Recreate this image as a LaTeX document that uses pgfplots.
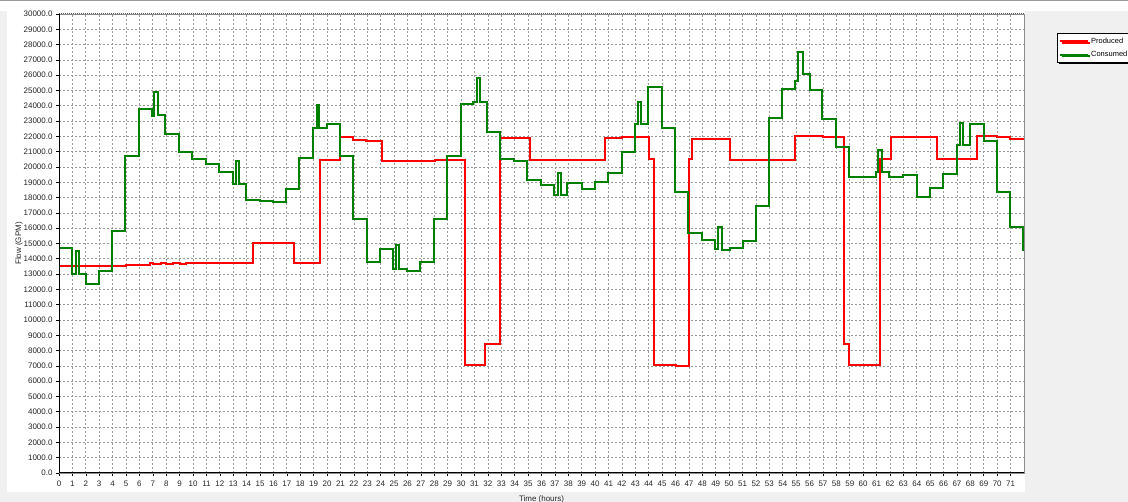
\documentclass[border=0pt]{standalone}
\usepackage{fontspec}
\setmainfont{Liberation Sans}
\usepackage{pgfplots}
\pgfplotsset{compat=1.18}
\usetikzlibrary{shadows}
\definecolor{bggray}{HTML}{F0F0F0}
\definecolor{gridgray}{HTML}{9A9A9A}
\definecolor{prodred}{HTML}{FF0000}
\definecolor{consgreen}{HTML}{008000}
\begin{document}
\begin{tikzpicture}
\path[use as bounding box] (0bp,0bp) rectangle (1128bp,502bp);
\clip (0bp,0bp) rectangle (1128bp,502bp);
\fill[bggray] (0bp,0bp) rectangle (1128bp,502bp);
\fill[white] (0bp,491bp) rectangle (1128bp,501bp);
\fill[white] (7bp,10bp) rectangle (1025bp,491bp);
\draw[black!40, line width=1bp] (0bp,501.5bp) -- (1128bp,501.5bp);
\begin{axis}[
  at={(59bp,29bp)}, anchor=south west,
  scale only axis, width=965bp, height=459bp,
  xmin=0, xmax=72, ymin=0, ymax=30000,
  xtick={0,...,71}, ytick={0,1000,...,30000},
  scaled y ticks=false,
  grid=major,
  major grid style={gridgray, dash pattern=on 2bp off 2bp, line width=0.7bp},
  axis line style={draw=black!45, line width=0.8bp},
  tick align=outside, xtick pos=left, ytick pos=left,
  major tick length=3bp, tick style={black, line width=0.6bp},
  /pgf/number format/assume math mode=true,
  ticklabel style={font=\fontsize{8}{9}\selectfont, text=black!85},
  y tick label style={/pgf/number format/.cd, fixed, fixed zerofill, precision=1, 1000 sep={}},
  x tick label style={yshift=-1.5bp, /pgf/number format/.cd, fixed, precision=0, 1000 sep={}},
  xlabel={Time (hours)}, ylabel={Flow (GPM)},
  label style={font=\fontsize{8}{9}\selectfont, text=black!85},
  xlabel style={yshift=-2bp},
  ylabel style={yshift=-6bp},
  legend style={at={(axis description cs:1.0342,0.9586)}, anchor=north west,
    draw=black, fill=white, font=\fontsize{7.5}{8}\selectfont,
    inner xsep=2bp, inner ysep=2.5bp, row sep=2.5bp, cells={anchor=west},
    drop shadow={shadow xshift=1.5bp, shadow yshift=-1.5bp, fill=black, opacity=1}},
  legend image code/.code={\draw[#1] (0bp,0bp) -- (28bp,0bp);},
]
\addplot[const plot, prodred, line width=2bp, line join=miter] coordinates {
(0,13550) (5.0,13620) (6.8,13700) (7.0,13650) (7.6,13720) (8.0,13650) (8.5,13700) (9.0,13650) (9.5,13720)
(14.5,15010) (17.55,13700) (19.46,20460) (20.95,21940) (21.92,21770) (22.91,21700) (24.08,20410)
(28.06,20460) (30.3,7040) (31.79,8410) (32.88,21920) (35.15,20460) (40.75,21870) (42.0,21980)
(44.0,20500) (44.38,7040) (46.0,7000) (47.0,20500) (47.25,21810) (50.1,20460) (54.93,22030)
(57.04,21980) (58.6,8410) (58.95,7060) (61.27,20500) (62.07,21940) (65.5,20500) (68.48,22030)
(69.97,21940) (70.97,21810) (72,21810)
};
\addlegendentry{Produced}
\addplot[const plot, consgreen, line width=2bp, line join=miter] coordinates {
(0,14700) (0.97,13000) (1.3,14500) (1.5,13000) (2.0,12330) (2.95,13180) (3.96,15800) (4.93,20750)
(6.0,23800) (6.92,23350) (7.1,24880) (7.35,23400) (7.9,22140) (8.98,20960) (9.95,20550) (10.95,20200)
(11.94,19650) (12.96,18890) (13.2,20410) (13.4,18890) (13.96,17840) (15.0,17760) (15.99,17700)
(16.94,18570) (17.93,20600) (18.93,22550) (19.23,24030) (19.43,22550) (20.02,22830) (20.97,20720)
(21.96,16620) (22.96,13770) (23.96,14620) (24.95,13330) (25.15,14900) (25.4,13330) (25.95,13220)
(26.94,13770) (27.99,16620) (28.93,20720) (29.98,24120) (30.92,24270) (31.17,25840) (31.42,24270)
(31.96,22290) (32.91,20540) (33.96,20390) (34.95,19150) (35.95,18820) (36.94,18170) (37.2,19630)
(37.46,18170) (37.89,18930) (39.0,18560) (40.0,19000) (40.99,19630) (41.99,21000) (42.99,22790)
(43.23,24270) (43.43,22790) (43.98,25210) (44.97,22570) (45.97,18390) (46.96,15660) (47.96,15230)
(48.96,14640) (49.2,16100) (49.45,14600) (50.07,14690) (51.0,15190) (51.99,17470) (53.0,23220)
(53.93,25080) (54.93,25640) (55.17,27540) (55.5,26080) (56.0,25030) (56.96,23120) (57.96,21330)
(58.93,19370) (60.97,19690) (61.14,21110) (61.44,19650) (61.96,19370) (63.0,19480) (64.0,18060)
(65.0,18610) (65.99,19540) (66.99,21440) (67.19,22900) (67.44,21440) (67.99,22810) (68.98,21720)
(69.97,18390) (70.97,16100) (71.92,14600) (72,14600)
};
\addlegendentry{Consumed}
\draw[black, line width=1.2bp] (rel axis cs:0,1) -- (rel axis cs:0,0) -- (rel axis cs:1,0);
\draw[black!65, line width=1bp, dash pattern=on 1bp off 1bp] (rel axis cs:0,1) -- (rel axis cs:1,1);
\end{axis}
\end{tikzpicture}
\end{document}
